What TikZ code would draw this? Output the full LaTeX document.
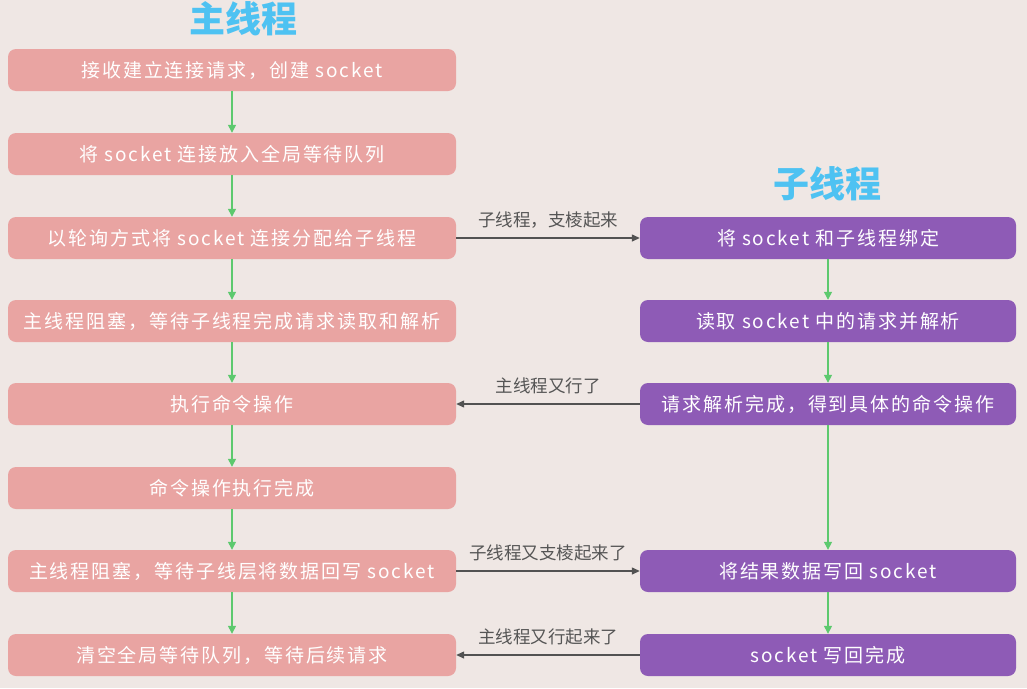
\documentclass[tikz,border=0pt]{standalone}
\usepackage{fontspec}
\setmainfont{Noto Sans CJK SC}
\newfontfamily\boxfont[LetterSpace=10]{Noto Sans CJK SC}
\usetikzlibrary{arrows.meta}
\definecolor{bg}{HTML}{EFE7E4}
\definecolor{salmon}{HTML}{E9A4A2}
\definecolor{purp}{HTML}{8E5BB6}
\definecolor{titleblue}{HTML}{4EC2F2}
\definecolor{grn}{HTML}{5DC96E}
\definecolor{lbl}{HTML}{555555}
\tikzset{
  mainbox/.style={rounded corners=8pt, fill=salmon, draw=none, minimum width=448pt, minimum height=42pt, text=white, font=\boxfont\fontsize{19}{22}\selectfont, inner sep=0pt},
  subbox/.style={rounded corners=8pt, fill=purp, draw=none, minimum width=376pt, minimum height=42pt, text=white, font=\boxfont\fontsize{19}{22}\selectfont, inner sep=0pt},
  title/.style={text=titleblue, font=\fontsize{36}{40}\selectfont\bfseries},
  flow/.style={draw=grn, line width=1.3pt, -{Triangle[length=8pt,width=8pt]}},
  cross/.style={draw=black!68, line width=1.3pt, -{Triangle[length=8pt,width=7pt]}},
  lab/.style={text=lbl, font=\fontsize{17.5}{20}\selectfont, above, inner sep=0pt, yshift=9pt}
}
\begin{document}
\begin{tikzpicture}[x=1pt,y=-1pt]
\fill[bg] (0,0) rectangle (1027,688);
\useasboundingbox (0,0) rectangle (1027,688);
\node[title] (t1) at (243,19) {主线程};
\node[title] (t2) at (827,184) {子线程};
\node[mainbox] (m1) at (232,70) {接收建立连接请求，创建 socket};
\node[mainbox] (m2) at (232,154) {将 socket 连接放入全局等待队列};
\node[mainbox] (m3) at (232,238) {以轮询方式将 socket 连接分配给子线程};
\node[mainbox] (m4) at (232,321) {主线程阻塞，等待子线程完成请求读取和解析};
\node[mainbox] (m5) at (232,404) {执行命令操作};
\node[mainbox] (m6) at (232,488) {命令操作执行完成};
\node[mainbox] (m7) at (232,571) {主线程阻塞，等待子线层将数据回写 socket};
\node[mainbox] (m8) at (232,655) {清空全局等待队列，等待后续请求};
\node[subbox] (s1) at (828,238) {将 socket 和子线程绑定};
\node[subbox] (s2) at (828,321) {读取 socket 中的请求并解析};
\node[subbox] (s3) at (828,404) {请求解析完成，得到具体的命令操作};
\node[subbox] (s4) at (828,571) {将结果数据写回 socket};
\node[subbox] (s5) at (828,655) {socket 写回完成};
\foreach \a/\b in {m1/m2,m2/m3,m3/m4,m4/m5,m5/m6,m6/m7,m7/m8,s1/s2,s2/s3,s3/s4,s4/s5}
  \draw[flow] (\a) -- (\b);
\draw[cross] (m3) -- node[lab]{子线程，支棱起来} (s1);
\draw[cross] (s3) -- node[lab]{主线程又行了} (m5);
\draw[cross] (m7) -- node[lab]{子线程又支棱起来了} (s4);
\draw[cross] (s5) -- node[lab]{主线程又行起来了} (m8);
\end{tikzpicture}
\end{document}
